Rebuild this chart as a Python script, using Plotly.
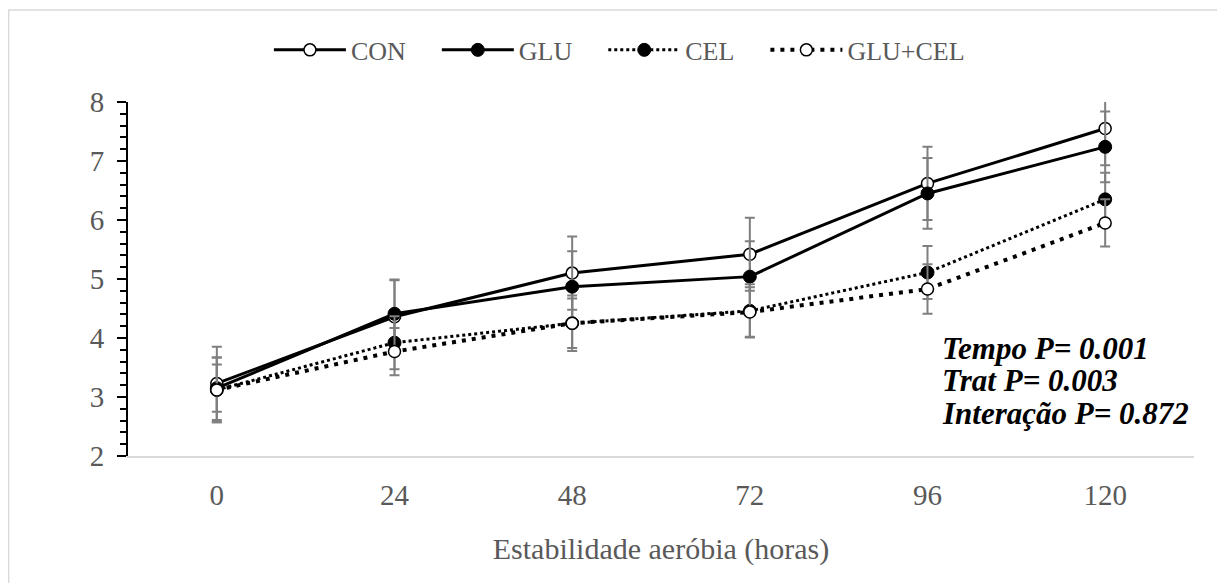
import plotly.graph_objects as go

hours = [0, 24, 48, 72, 96, 120]
series_names = ["CON", "GLU", "CEL", "GLU+CEL"]
con = [3.23, 4.36, 5.10, 5.42, 6.62, 7.55]
glu = [3.15, 4.41, 4.87, 5.04, 6.45, 7.24]
cel = [3.12, 3.92, 4.25, 4.46, 5.11, 6.35]
glucel = [3.12, 3.77, 4.25, 4.44, 4.83, 5.95]
con_err = [0.62, 0.62, 0.62, 0.62, 0.62, 0.62]
glu_err = [0.40, 0.58, 0.60, 0.60, 0.60, 0.60]
cel_err = [0.55, 0.45, 0.42, 0.45, 0.45, 0.45]
glucel_err = [0.55, 0.40, 0.47, 0.42, 0.42, 0.40]
annot_lines = ["Tempo P= 0.001", "Trat P= 0.003", "Interação P= 0.872"]
annot_y = [0.305, 0.212, 0.121]

FONT = "Liberation Serif"
GRAY = "#595959"
PAD = "\u00a0" * 4

fig = go.Figure()

specs = [
    (con, con_err, dict(color="black", width=3), dict(symbol="circle", size=12, color="white", line=dict(color="black", width=1.5))),
    (glu, glu_err, dict(color="black", width=3), dict(symbol="circle", size=13, color="black", line=dict(color="black", width=1))),
    (cel, cel_err, dict(color="black", width=3, dash="3px,3px"), dict(symbol="circle", size=13, color="black", line=dict(color="black", width=1))),
    (glucel, glucel_err, dict(color="black", width=4, dash="4px,6px"), dict(symbol="circle", size=12, color="white", line=dict(color="black", width=1.5))),
]

for i, (name, (vals, errs, line, marker)) in enumerate(zip(series_names, specs)):
    label = name + (PAD if i < len(series_names) - 1 else "")
    fig.add_trace(go.Scatter(
        x=hours, y=vals, name=label, mode="lines+markers",
        line=line, marker=marker,
        error_y=dict(type="data", array=errs, visible=True, color="#7f7f7f", thickness=2, width=5),
    ))

for t, yy in zip(annot_lines, annot_y):
    fig.add_annotation(
        x=0.762, y=yy, xref="paper", yref="paper", xanchor="left", yanchor="middle",
        align="left", showarrow=False,
        text=f"<b><i>{t}</i></b>",
        font=dict(family=FONT, size=31, color="black"),
    )

fig.add_shape(type="rect", xref="paper", yref="paper",
              x0=-0.112, x1=1.0272, y0=-0.45, y1=1.26,
              line=dict(color="#d9d9d9", width=1.5), fillcolor="rgba(0,0,0,0)", layer="below")

fig.update_layout(
    width=1217, height=575,
    margin=dict(l=120, r=31, t=94, b=127),
    paper_bgcolor="white", plot_bgcolor="white",
    font=dict(family=FONT, size=29, color=GRAY),
    showlegend=True,
    legend=dict(orientation="h", x=0.461, y=1.147, xanchor="center", yanchor="middle",
                font=dict(family=FONT, size=26, color=GRAY), itemwidth=72,
                bgcolor="rgba(0,0,0,0)"),
    xaxis=dict(
        title=dict(text="Estabilidade aeróbia (horas)", font=dict(family=FONT, size=30, color=GRAY), standoff=28),
        range=[-12, 132], tickvals=hours, ticktext=[str(h) for h in hours],
        showgrid=False, zeroline=False, showline=True, linecolor="#d9d9d9", linewidth=1.5,
        ticks="", ticklabelstandoff=12, tickfont=dict(family=FONT, size=29, color=GRAY),
    ),
    yaxis=dict(
        range=[2, 8], dtick=1, tick0=2, showgrid=False, zeroline=False,
        showline=True, linecolor="black", linewidth=2,
        ticks="outside", ticklen=9, tickwidth=2, tickcolor="black",
        ticklabelstandoff=7,
        minor=dict(dtick=0.2, ticks="outside", ticklen=6, tickwidth=1.5, tickcolor="black", showgrid=False),
        tickfont=dict(family=FONT, size=29, color=GRAY),
    ),
)

fig.write_html("out.html")
